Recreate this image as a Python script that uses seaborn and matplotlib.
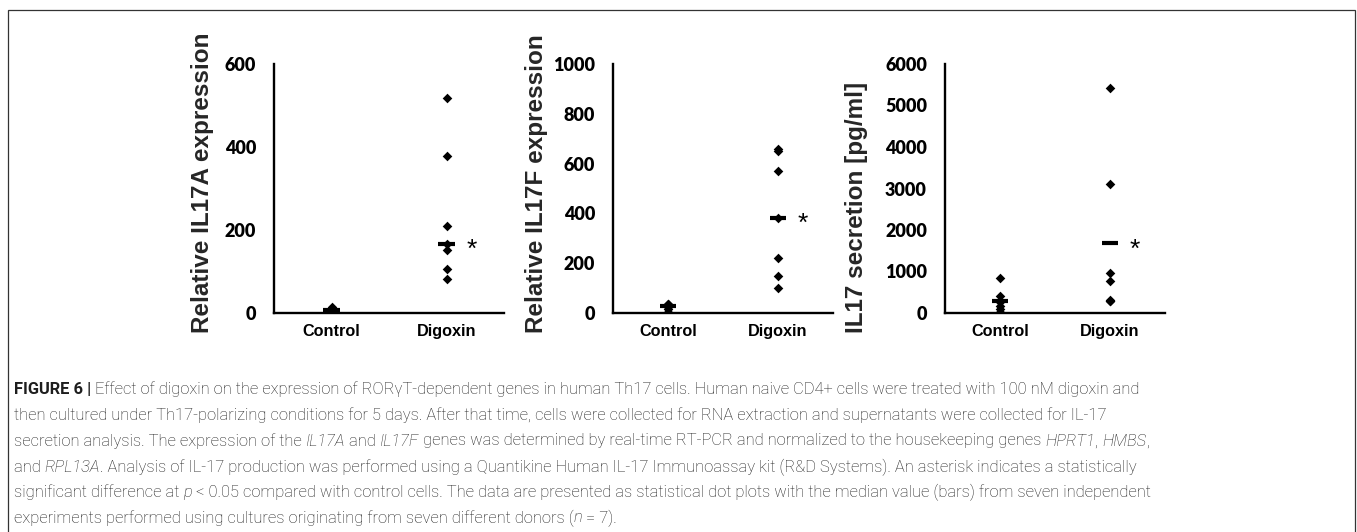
import numpy as np
import pandas as pd
import matplotlib
matplotlib.use("Agg")
import matplotlib.pyplot as plt
import seaborn as sns
from matplotlib.patches import Rectangle

# ---------------- data ----------------
groups = ["Control", "Digoxin"]

il17a_control = [2, 4, 6, 7, 9, 11, 14]
il17a_digoxin = [518, 379, 209, 167, 151, 105, 81]
il17a_median = [7, 167]

il17f_control = [5, 18, 25, 28, 32, 35, 38]
il17f_digoxin = [660, 650, 570, 383, 219, 149, 99]
il17f_median = [28, 383]

secretion_control = [850, 410, 280, 260, 180, 90, 30]
secretion_digoxin = [5420, 3100, 970, 770, 320, 300, 290]
secretion_median = [280, 1675]

y_labels = ["Relative IL17A expression", "Relative IL17F expression",
            "IL17 secretion [pg/ml]"]
y_max = [600, 1000, 6000]
y_step = [200, 200, 1000]
significance = ["*", "*", "*"]

caption_lines = [
    [("FIGURE 6 |", "b"), (" Effect of digoxin on the expression of RORγT-dependent genes in human Th17 cells. "
                           "Human naive CD4+ cells were treated with 100 nM digoxin and", "r")],
    [("then cultured under Th17-polarizing conditions for 5 days. After that time, cells were collected "
      "for RNA extraction and supernatants were collected for IL-17", "r")],
    [("secretion analysis. The expression of the ", "r"), ("IL17A", "i"), (" and ", "r"), ("IL17F", "i"),
     (" genes was determined by real-time RT-PCR and normalized to the housekeeping genes ", "r"),
     ("HPRT1", "i"), (", ", "r"), ("HMBS", "i"), (",", "r")],
    [("and ", "r"), ("RPL13A", "i"), (". Analysis of IL-17 production was performed using a Quantikine "
                                    "Human IL-17 Immunoassay kit (R&D Systems). An asterisk indicates a statistically", "r")],
    [("significant difference at ", "r"), ("p", "i"), (" < 0.05 compared with control cells. The data are "
                                                     "presented as statistical dot plots with the median value (bars) from seven independent", "r")],
    [("experiments performed using cultures originating from seven different donors (", "r"), ("n", "i"),
     (" = 7).", "r")],
]

panels = [
    (il17a_control, il17a_digoxin, il17a_median),
    (il17f_control, il17f_digoxin, il17f_median),
    (secretion_control, secretion_digoxin, secretion_median),
]

# ---------------- style ----------------
sns.set_style("white")
plt.rcParams["font.family"] = ["Lato", "DejaVu Sans"]
arial = ["Liberation Sans", "DejaVu Sans"]

W, H = 1357, 532
fig = plt.figure(figsize=(W / 100, H / 100), dpi=100)

# frame box around the figure
fig.patches.append(Rectangle((8 / W, -0.1), (1355 - 8) / W, 1.1 - 10 / H,
                             transform=fig.transFigure, fill=False,
                             edgecolor="#333333", linewidth=0.9))

ax_px = [(274, 504), (613, 833), (945, 1165)]
top_px, bot_px = 64, 313
label_x_px = [203, 537, 857]

for i, (ctrl, dig, med) in enumerate(panels):
    l, r = ax_px[i]
    ax = fig.add_axes([l / W, 1 - bot_px / H, (r - l) / W, (bot_px - top_px) / H])
    df = pd.DataFrame({
        "group": [groups[0]] * len(ctrl) + [groups[1]] * len(dig),
        "value": list(ctrl) + list(dig),
    })
    sns.stripplot(data=df, x="group", y="value", order=groups, jitter=False,
                  marker="D", color="black", size=4.9, linewidth=0, ax=ax)
    pos = np.arange(len(groups))
    ax.hlines(med, pos - 0.075, pos + 0.075, colors="black", linewidth=3.0)
    ax.annotate(significance[i], xy=(pos[1], med[1]), xytext=(25, -6),
                textcoords="offset pixels", ha="center", va="center",
                fontsize=19, color="black", family=arial)
    ax.set_xlim(-0.5, 1.5)
    ax.set_ylim(0, y_max[i])
    ax.set_yticks(np.arange(0, y_max[i] + 1, y_step[i]))
    ax.set_xlabel("")
    ax.set_ylabel(y_labels[i], fontsize=17.5, fontweight="bold", family=arial,
                  ha="left", va="center", rotation_mode="anchor")
    ax.yaxis.set_label_coords((label_x_px[i] - l) / (r - l), (bot_px - 333) / (bot_px - top_px))
    for s in ["top", "right"]:
        ax.spines[s].set_visible(False)
    for s in ["left", "bottom"]:
        ax.spines[s].set_linewidth(1.7)
        ax.spines[s].set_color("black")
    ax.tick_params(axis="y", direction="out", length=5, width=1.6, pad=8,
                   labelsize=13, colors="black")
    ax.tick_params(axis="x", length=0, pad=8, labelsize=11.7, colors="black")
    for t in ax.get_yticklabels():
        t.set_fontweight("heavy")
    for t in ax.get_xticklabels():
        t.set_fontweight("bold")
        t.set_family(arial)
    ax.grid(False)
    ax.set_facecolor("none")

# ---------------- caption ----------------
renderer = fig.canvas.get_renderer()
cap_color = "#1e1e1e"
cap_family = ["Roboto", "DejaVu Sans"]
styles = {"r": dict(weight="light", style="normal"),
          "b": dict(weight="bold", style="normal"),
          "i": dict(weight="light", style="italic")}


def seg_width(txt, st, fs):
    a = fig.text(0, 0, "x" + txt + "x", fontsize=fs, family=cap_family, **styles[st])
    b = fig.text(0, 0, "xx", fontsize=fs, family=cap_family, **styles[st])
    w = a.get_window_extent(renderer).width - b.get_window_extent(renderer).width
    a.remove()
    b.remove()
    return w


base_fs = 11.5
w1 = sum(seg_width(t, s, base_fs) for t, s in caption_lines[0])
fs = base_fs * (1151 - 14) / w1

line_y = [389, 415, 441, 467, 492, 518]
for segs, yc in zip(caption_lines, line_y):
    x = 14
    for txt, st in segs:
        fig.text(x / W, 1 - yc / H, txt, fontsize=fs, family=cap_family,
                 color=cap_color, va="center", ha="left", **styles[st])
        x += seg_width(txt, st, fs)

fig.savefig("out.png", dpi=100)
